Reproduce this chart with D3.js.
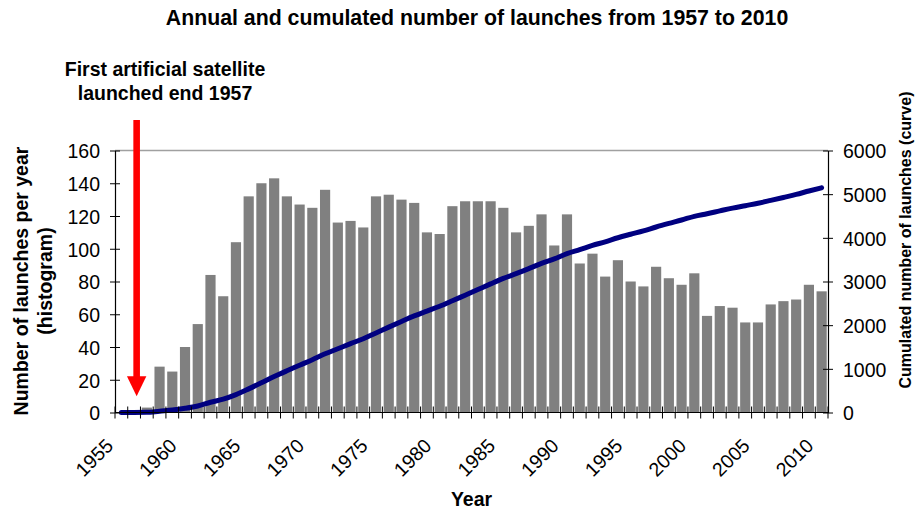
<!DOCTYPE html>
<html>
<head>
  <meta charset="utf-8">
  <title>Annual and cumulated number of launches</title>
  <style>
    body {
      margin: 0;
      background: #fff;
      font-family: Arial, "Liberation Sans", sans-serif;
    }
    svg text {
      font-family: Arial, "Liberation Sans", sans-serif;
    }
  </style>
  <script src="https://d3js.org/d3.v7.min.js"></script>
</head>
<body>
  <svg id="chart" width="915" height="509"></svg>

  <script>
    var width = 915,
        height = 509;

    // categories on the x axis (one per year)
    var years = d3.range(1955, 2011);

    // launches per year (histogram)
    var launches = [
      0, 0, 3, 28, 25, 40, 54, 84, 71, 104,
      132, 140, 143, 132, 127, 125, 136, 116, 117, 113,
      132, 133, 130, 128, 110, 109, 126, 129, 129, 129,
      125, 110, 114, 121, 102, 121, 91, 97, 83, 93,
      80, 77, 89, 82, 78, 85, 59, 65, 64, 55,
      55, 66, 68, 69, 78, 74
    ];

    // cumulated launches (curve)
    var cumulated = [
      0, 0, 3, 31, 56, 96, 150, 234, 305, 409,
      541, 681, 824, 956, 1083, 1208, 1344, 1460, 1577, 1690,
      1822, 1955, 2085, 2213, 2323, 2432, 2558, 2687, 2816, 2945,
      3070, 3180, 3294, 3415, 3517, 3638, 3729, 3826, 3909, 4002,
      4082, 4159, 4248, 4330, 4408, 4493, 4552, 4617, 4681, 4736,
      4791, 4857, 4925, 4994, 5072, 5146
    ];

    var xLabelYears = [1955, 1960, 1965, 1970, 1975, 1980, 1985, 1990, 1995, 2000, 2005, 2010];
    var leftTicks = [0, 20, 40, 60, 80, 100, 120, 140, 160];
    var rightTicks = [0, 1000, 2000, 3000, 4000, 5000, 6000];

    var plot = { left: 115, right: 828, top: 150.5, bottom: 412.5 };

    var svg = d3.select("#chart");

    var x = d3.scaleBand()
        .domain(years)
        .range([plot.left, plot.right])
        .paddingInner(0.2)
        .paddingOuter(0.1);

    var step = x.step();
    var y = d3.scaleLinear().domain([0, 160]).range([plot.bottom, plot.top]);
    var y2 = d3.scaleLinear().domain([0, 6000]).range([plot.bottom, plot.top]);

    // top border of plot area
    svg.append("line")
        .attr("x1", plot.left).attr("x2", plot.right)
        .attr("y1", plot.top).attr("y2", plot.top)
        .attr("stroke", "#a0a0a0")
        .attr("stroke-width", 1.5);

    // bars
    svg.append("g")
      .selectAll("rect")
      .data(years)
      .join("rect")
        .attr("x", d => x(d))
        .attr("width", x.bandwidth())
        .attr("y", (d, i) => y(launches[i]))
        .attr("height", (d, i) => plot.bottom - y(launches[i]))
        .attr("fill", "#808080");

    // cumulated curve
    var line = d3.line()
        .x((d, i) => x(years[i]) + x.bandwidth() / 2)
        .y(d => y2(d))
        .curve(d3.curveMonotoneX);

    svg.append("path")
        .datum(cumulated)
        .attr("d", line)
        .attr("fill", "none")
        .attr("stroke", "#000080")
        .attr("stroke-width", 5)
        .attr("stroke-linecap", "round")
        .attr("stroke-linejoin", "round");

    // x axis: baseline + cross ticks at category boundaries
    var xAxis = svg.append("g");
    xAxis.append("line")
        .attr("x1", plot.left).attr("x2", plot.right)
        .attr("y1", plot.bottom).attr("y2", plot.bottom)
        .attr("stroke", "#000").attr("stroke-width", 1.2);
    xAxis.selectAll("line.tick")
      .data(d3.range(years.length + 1))
      .join("line")
        .attr("class", "tick")
        .attr("x1", d => plot.left + d * step)
        .attr("x2", d => plot.left + d * step)
        .attr("y1", plot.bottom - 6)
        .attr("y2", plot.bottom + 6)
        .attr("stroke", "#000");
    xAxis.selectAll("text")
      .data(xLabelYears)
      .join("text")
        .attr("transform", d => "translate(" + (x(d) + x.bandwidth() / 2 - 7) + "," + 447 + ") rotate(-45)")
        .attr("text-anchor", "end")
        .attr("font-size", 19.5)
        .text(d => d);

    // left axis
    var yAxis = svg.append("g")
        .attr("transform", "translate(" + plot.left + ",0)")
        .call(d3.axisLeft(y).tickValues(leftTicks).tickSize(0));
    yAxis.select(".domain").attr("stroke", "#000").attr("stroke-width", 1.2);
    yAxis.selectAll(".tick line").attr("x1", -5).attr("x2", 5).attr("stroke", "#000");
    yAxis.selectAll(".tick text")
        .attr("x", -15)
        .attr("dy", "0.38em")
        .attr("font-size", 19.5)
        .attr("fill", "#000");

    // right axis
    var y2Axis = svg.append("g")
        .attr("transform", "translate(" + plot.right + ",0)")
        .call(d3.axisRight(y2).tickValues(rightTicks).tickFormat(d3.format("d")).tickSize(0));
    y2Axis.select(".domain").attr("stroke", "#000").attr("stroke-width", 1.2);
    y2Axis.selectAll(".tick line").attr("x1", -5).attr("x2", 5).attr("stroke", "#000");
    y2Axis.selectAll(".tick text")
        .attr("x", 15)
        .attr("dy", "0.38em")
        .attr("font-size", 19.5)
        .attr("fill", "#000");

    // titles
    svg.append("text")
        .attr("x", 477).attr("y", 25)
        .attr("text-anchor", "middle")
        .attr("font-size", 21.3)
        .attr("font-weight", "bold")
        .text("Annual and cumulated number of launches from 1957 to 2010");

    svg.append("text")
        .attr("x", (plot.left + plot.right) / 2).attr("y", 506)
        .attr("text-anchor", "middle")
        .attr("font-size", 19.5)
        .attr("font-weight", "bold")
        .text("Year");

    var leftTitle = svg.append("text")
        .attr("transform", "translate(28,281) rotate(-90)")
        .attr("text-anchor", "middle")
        .attr("font-size", 19.5)
        .attr("font-weight", "bold");
    leftTitle.append("tspan").attr("x", 0).attr("y", 0).text("Number of launches per year");
    leftTitle.append("tspan").attr("x", 0).attr("y", 23.5).text("(histogram)");

    svg.append("text")
        .attr("transform", "translate(911,240) rotate(-90)")
        .attr("text-anchor", "middle")
        .attr("font-size", 16)
        .attr("font-weight", "bold")
        .text("Cumulated number of launches (curve)");

    // annotation
    var note = svg.append("text")
        .attr("text-anchor", "middle")
        .attr("font-size", 19.5)
        .attr("font-weight", "bold");
    note.append("tspan").attr("x", 165).attr("y", 76).text("First artificial satellite");
    note.append("tspan").attr("x", 165).attr("y", 100).text("launched end 1957");

    var ax = x(1956) - step * 0.1 + step * 0.7;
    var tipY = y(10);
    svg.append("rect")
        .attr("x", ax - 3.3).attr("y", 120)
        .attr("width", 6.6).attr("height", tipY - 20 - 120 + 1)
        .attr("fill", "#ff0000");
    svg.append("path")
        .attr("d", "M" + (ax - 9.7) + "," + (tipY - 20) + "L" + (ax + 9.7) + "," + (tipY - 20) + "L" + ax + "," + tipY + "Z")
        .attr("fill", "#ff0000");
  </script>
</body>
</html>
